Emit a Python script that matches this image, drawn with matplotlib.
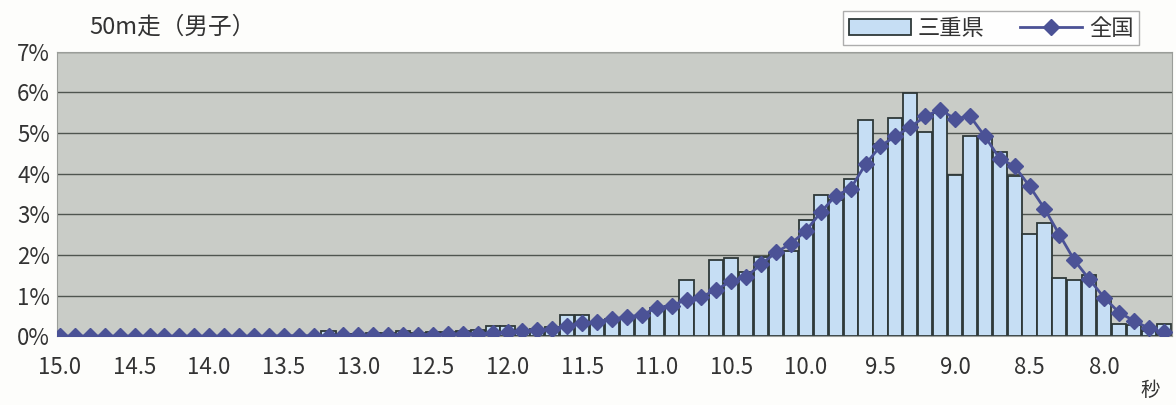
import numpy as np
import matplotlib
matplotlib.use('Agg')
import matplotlib.pyplot as plt
from matplotlib.ticker import FuncFormatter

plt.rcParams['font.family'] = ['Noto Sans CJK JP', 'DejaVu Sans']

# 50m run times (seconds), 15.0 down to 7.6 in 0.1 steps
times = np.arange(150, 75, -1) / 10

# share of boys per time (%)
mie = [0.00, 0.00, 0.00, 0.00, 0.00, 0.00, 0.00, 0.00, 0.00, 0.00,
       0.00, 0.00, 0.00, 0.00, 0.00, 0.00, 0.00, 0.00, 0.12, 0.05,
       0.06, 0.08, 0.08, 0.12, 0.07, 0.10, 0.10, 0.12, 0.14, 0.25,
       0.25, 0.15, 0.18, 0.22, 0.52, 0.52, 0.36, 0.42, 0.45, 0.46,
       0.70, 0.75, 1.38, 0.99, 1.87, 1.93, 1.59, 1.96, 2.02, 2.10,
       2.86, 3.47, 3.34, 3.86, 5.33, 4.72, 5.37, 5.99, 5.03, 5.50,
       3.96, 4.94, 4.88, 4.53, 3.94, 2.51, 2.79, 1.43, 1.38, 1.50,
       0.91, 0.29, 0.27, 0.12, 0.31]

national = [0.00, 0.00, 0.00, 0.00, 0.00, 0.00, 0.00, 0.00, 0.00, 0.00,
            0.00, 0.00, 0.00, 0.00, 0.00, 0.01, 0.01, 0.01, 0.01, 0.02,
            0.02, 0.02, 0.03, 0.03, 0.04, 0.04, 0.05, 0.05, 0.06, 0.08,
            0.10, 0.12, 0.14, 0.18, 0.24, 0.32, 0.36, 0.42, 0.47, 0.52,
            0.70, 0.75, 0.90, 0.97, 1.14, 1.36, 1.46, 1.77, 2.06, 2.28,
            2.59, 3.05, 3.46, 3.63, 4.23, 4.68, 4.92, 5.15, 5.41, 5.58,
            5.35, 5.42, 4.92, 4.37, 4.18, 3.69, 3.14, 2.50, 1.87, 1.40,
            0.95, 0.58, 0.38, 0.19, 0.09]

xtick_vals = [15.0, 14.5, 14.0, 13.5, 13.0, 12.5, 12.0, 11.5, 11.0,
              10.5, 10.0, 9.5, 9.0, 8.5, 8.0]

text_col = '#333333'
fig = plt.figure(figsize=(11.76, 4.05), dpi=100)
ax = fig.add_axes([0.0485, 0.170, 0.948, 0.702])
ax.set_facecolor('#c9ccc7')

bars = ax.bar(times, mie, width=0.095, color='#c6def4', edgecolor='#2e3838',
              linewidth=1.3, zorder=2, label='三重県')
line, = ax.plot(times, national, color='#4b5296', linewidth=2.0, marker='D',
                markersize=8, zorder=3, label='全国')

ax.set_xlim(15.02, 7.546)
ax.set_ylim(0, 7)
ax.set_yticks(range(0, 8))
ax.yaxis.set_major_formatter(FuncFormatter(lambda v, p: f'{int(v)}%'))
ax.set_xticks(xtick_vals)
ax.set_xticklabels([f'{v:.1f}' for v in xtick_vals])
ax.tick_params(axis='both', length=0, labelsize=16, colors=text_col)
ax.tick_params(axis='x', pad=14)
ax.tick_params(axis='y', pad=5)
ax.grid(axis='y', color='#4f5550', linewidth=1.0, zorder=1)
ax.set_axisbelow(True)
for s in ax.spines.values():
    s.set_color('#9a9d99')
    s.set_linewidth(0.8)

fig.text(0.076, 0.933, '50m走（男子）', fontsize=17, color=text_col, va='center')
fig.text(0.978, 0.035, '秒', fontsize=14, color=text_col, ha='center', va='center')

fig.legend([bars, line], ['三重県', '全国'], loc='upper right',
           bbox_to_anchor=(0.978, 1.0), ncol=2,
           fontsize=16, frameon=True, fancybox=False, edgecolor='#999999',
           handlelength=2.8, handletextpad=0.3, columnspacing=1.6,
           borderpad=0.25, labelcolor=text_col)

fig.savefig('out.png', dpi=100, facecolor='#fdfdfb')
